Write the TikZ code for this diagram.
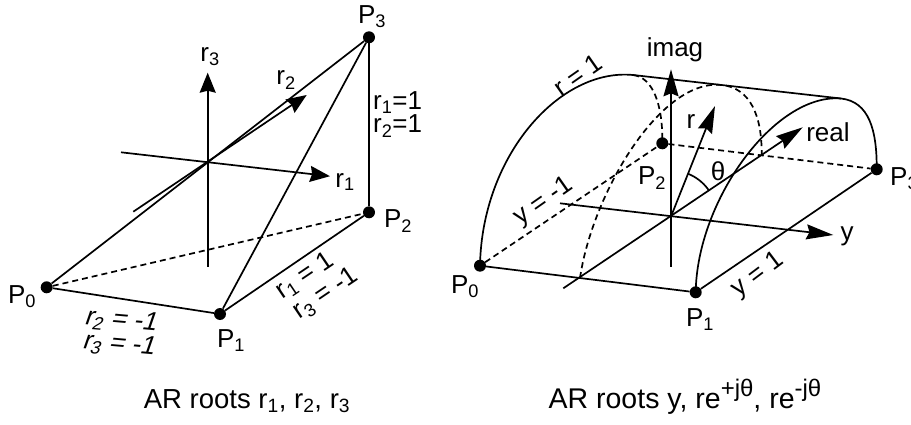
\documentclass[tikz,border=0pt]{standalone}
\usepackage{fontspec}
\setmainfont{Liberation Sans}
\usetikzlibrary{arrows.meta}
\newcommand{\supbig}[1]{\raisebox{0.42em}{\fontsize{24}{26}\selectfont #1}}
\begin{document}
\begin{tikzpicture}[x=1pt,y=-1pt,
  ln/.style={line width=1.7pt},
  dsh/.style={line width=1.7pt, dash pattern=on 6pt off 4pt},
  axl/.style={line width=1.7pt, -{Stealth[length=20pt,width=16pt,inset=2pt]}},
  axr/.style={line width=1.7pt, -{Stealth[length=27pt,width=15pt,inset=3pt]}},
  dot/.style={circle, fill=black, inner sep=0pt, minimum size=12pt},
  lbl/.style={inner sep=0pt, font=\fontsize{26}{30}\selectfont},
  captxt/.style={inner sep=0pt, anchor=base, font=\fontsize{27.5}{32}\selectfont},
  captxtb/.style={inner sep=0pt, anchor=base, font=\fontsize{28.5}{33}\selectfont},
]
\useasboundingbox (0,0) rectangle (911,425);

% ---------------- left diagram ----------------
\node[dot] (L0) at (46.7,287.3) {};
\node[dot] (L1) at (220,314) {};
\node[dot] (L2) at (369,212.3) {};
\node[dot] (L3) at (369,37.3) {};
\coordinate (r3a) at (207.7,266.7);
\coordinate (r3b) at (207.7,72.7);
\coordinate (r1a) at (121,152.3);
\coordinate (r1b) at (330,176.2);
\coordinate (r2a) at (133.3,211.7);
\coordinate (r2b) at (306.7,95);

\draw[ln] (L0) -- (L1);
\draw[ln] (L1) -- (L2);
\draw[ln] (L2) -- (L3);
\draw[ln] (L0) -- (L3);
\draw[ln] (L1) -- (L3);
\draw[dsh] (L0) -- (L2);
\draw[axl] (r3a) -- (r3b);
\draw[axl] (r1a) -- (r1b);
\draw[axl] (r2a) -- (r2b);

\node[lbl] (tP0) at (22,297) {P\textsubscript{0}};
\node[lbl] (tP1) at (231,341) {P\textsubscript{1}};
\node[lbl] (tP2) at (398,221) {P\textsubscript{2}};
\node[lbl] (tP3) at (372,17) {P\textsubscript{3}};
\node[lbl] (tr3) at (210,57) {r\textsubscript{3}};
\node[lbl] (tr2) at (286,80) {r\textsubscript{2}};
\node[lbl] (tr1) at (345,182) {r\textsubscript{1}};
\node[lbl, anchor=west] (tq1) at (373,103) {r\textsubscript{1}=1};
\node[lbl, anchor=west] (tq2) at (373,126) {r\textsubscript{2}=1};
\node[lbl, rotate=-5, xslant=0.25] (ts1) at (122,321) {r\textsubscript{2} = -1};
\node[lbl, rotate=-5, xslant=0.25] (ts2) at (120,345) {r\textsubscript{3} = -1};
\node[lbl, rotate=34] (tu1) at (305,276) {r\textsubscript{1} = 1};
\node[lbl, rotate=34] (tu2) at (326,294) {r\textsubscript{3} = -1};

\node[captxt] (capL) at (247,408) {AR roots r\textsubscript{1}, r\textsubscript{2}, r\textsubscript{3}};

% ---------------- right diagram ----------------
\node[dot] (R0) at (480,265.7) {};
\node[dot] (R1) at (695.7,292.3) {};
\node[dot] (R2) at (662.3,143.3) {};
\node[dot] (R3) at (876.7,169.3) {};
\coordinate (RO) at (671,216.5);
\coordinate (TL) at (633,75);
\coordinate (TR) at (841,98.5);
\coordinate (MA) at (580,278);
\coordinate (MT) at (722,85);
\coordinate (ME) at (761.7,155);
\coordinate (ima) at (671,266.7);
\coordinate (imb) at (671,69.3);
\coordinate (ya) at (560,203.3);
\coordinate (yb) at (833.3,235);
\coordinate (rea) at (563.3,288.3);
\coordinate (reb) at (802.7,127.3);
\coordinate (rb) at (715,106);

% base edges
\draw[ln] (R0) -- (R1);
\draw[ln] (R1) -- (R3);
\draw[dsh] (R0) -- (R2);
\draw[dsh] (R2) -- (R3);
% cylinder outline
\draw[ln] (R0.center) .. controls (482,155) and (560,68) .. (TL) -- (TR);
\draw[dsh] (TL) .. controls (653,77.3) and (663,105) .. (R2.center);
\draw[ln] (R1.center) .. controls (697,200) and (775,93) .. (TR)
          .. controls (869,101.6) and (877,130) .. (R3.center);
\draw[dsh] (MA) .. controls (592,195) and (660,78) .. (MT)
          .. controls (750,88.2) and (762,115) .. (ME);
% axes
\draw[axr] (ima) -- (imb);
\draw[axr] (ya) -- (yb);
\draw[axr] (rea) -- (reb);
\draw[axr] (RO) -- (rb);
\draw[ln] plot[domain=-68.3:-34.2, samples=25] ({671+46*cos(\x)}, {216.5+46*sin(\x)});

\node[lbl] (sP0) at (465,287) {P\textsubscript{0}};
\node[lbl] (sP1) at (700,320) {P\textsubscript{1}};
\node[lbl] (sP2) at (652,178) {P\textsubscript{2}};
\node[lbl, anchor=west] (sP3) at (890,179) {P\textsubscript{3}};
\node[lbl] (simag) at (675,50) {imag};
\node[lbl] (sreal) at (828,132) {real};
\node[lbl] (sr) at (691,122) {r};
\node[lbl] (sth) at (718,171) {θ};
\node[lbl] (sy) at (847,236) {y};
\node[lbl, rotate=35] (sr1) at (578,75) {r = 1};
\node[lbl, rotate=35] (sym) at (544,202) {y = -1};
\node[lbl, rotate=37] (syp) at (758,275) {y = 1};

\node[captxtb] (capR) at (685,408) {AR roots y, re\supbig{+jθ}, re\supbig{-jθ}};
\end{tikzpicture}
\end{document}
